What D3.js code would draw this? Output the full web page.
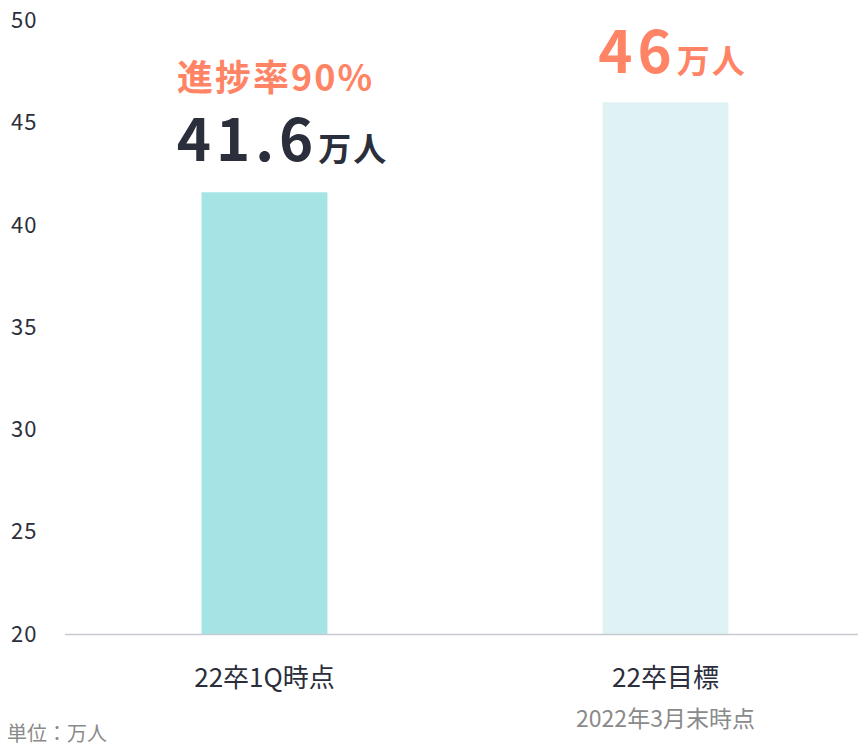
<!DOCTYPE html>
<html>
<head>
<meta charset="utf-8">
<script src="https://cdn.jsdelivr.net/npm/d3@7"></script>
<style>
  body { margin: 0; background: #fff; }
  text { font-family: "Noto Sans CJK JP", "Noto Sans", sans-serif; }
</style>
</head>
<body>
<script>
// data
var categories = ["22卒1Q時点", "22卒目標"];
var values = [41.6, 46];
var yTicks = [20, 25, 30, 35, 40, 45, 50];

var width = 858, height = 747;

var svg = d3.select("body").append("svg")
    .attr("width", width)
    .attr("height", height);

var x = d3.scaleBand()
    .domain(categories)
    .range([64, 866])
    .paddingInner(0.686)
    .paddingOuter(0.343);

var y = d3.scaleLinear()
    .domain([20, 50])
    .range([634, 20.5]);

// y tick labels
svg.selectAll(".ytick")
    .data(yTicks)
  .enter().append("text")
    .attr("class", "ytick")
    .attr("x", 11)
    .attr("y", function(d) { return y(d); })
    .attr("dy", "0.35em")
    .style("font-size", "22px")
    .style("letter-spacing", "1px")
    .style("fill", "#2b2e3b")
    .text(function(d) { return d; });

var colors = ["#a4e4e4", "#dff3f5"];

svg.selectAll(".bar")
    .data(values)
  .enter().append("rect")
    .attr("class", "bar")
    .attr("x", function(d, i) { return x(categories[i]); })
    .attr("width", x.bandwidth())
    .attr("y", function(d) { return y(d); })
    .attr("height", function(d) { return y(20) - y(d); })
    .attr("fill", function(d, i) { return colors[i]; });

// baseline
svg.append("line")
    .attr("x1", 65).attr("x2", 858)
    .attr("y1", y(20) + 0.5).attr("y2", y(20) + 0.5)
    .attr("stroke", "#c8cad2")
    .attr("stroke-width", 1.5);

// category labels
svg.selectAll(".cat")
    .data(categories)
  .enter().append("text")
    .attr("class", "cat")
    .attr("x", function(d) { return x(d) + x.bandwidth() / 2; })
    .attr("y", 687)
    .attr("text-anchor", "middle")
    .style("font-size", "26px")
    .style("fill", "#2b2e3b")
    .text(function(d) { return d; });

svg.append("text")
    .attr("x", x(categories[1]) + x.bandwidth() / 2)
    .attr("y", 727)
    .attr("text-anchor", "middle")
    .style("font-size", "23px")
    .style("fill", "#8a8a8a")
    .text("2022年3月末時点");

svg.append("text")
    .attr("x", 7)
    .attr("y", 741)
    .style("font-size", "20px")
    .style("fill", "#8a8a8a")
    .text("単位：万人");

// value labels
var orange = "#ff8466", dark = "#2b2e3b";
var cx0 = x(categories[0]) + x.bandwidth() / 2;
var cx1 = x(categories[1]) + x.bandwidth() / 2;

svg.append("text")
    .attr("x", cx0 + 11)
    .attr("y", 91)
    .attr("text-anchor", "middle")
    .style("font-size", "36px")
    .style("letter-spacing", "2px")
    .style("font-weight", "bold")
    .style("fill", orange)
    .text("進捗率90%");

var t1 = svg.append("text")
    .attr("x", cx0 + 18)
    .attr("y", 161)
    .attr("text-anchor", "middle")
    .style("fill", dark)
    .style("font-weight", "bold");
t1.append("tspan").style("font-size", "58px").style("letter-spacing", "5px").text(values[0]);
t1.append("tspan").style("font-size", "33px").style("letter-spacing", "2px").text("万人");

var t2 = svg.append("text")
    .attr("x", cx1 + 7)
    .attr("y", 73)
    .attr("text-anchor", "middle")
    .style("fill", orange)
    .style("font-weight", "bold");
t2.append("tspan").style("font-size", "58px").style("letter-spacing", "5px").text(values[1]);
t2.append("tspan").style("font-size", "33px").style("letter-spacing", "2px").text("万人");
</script>
</body>
</html>
